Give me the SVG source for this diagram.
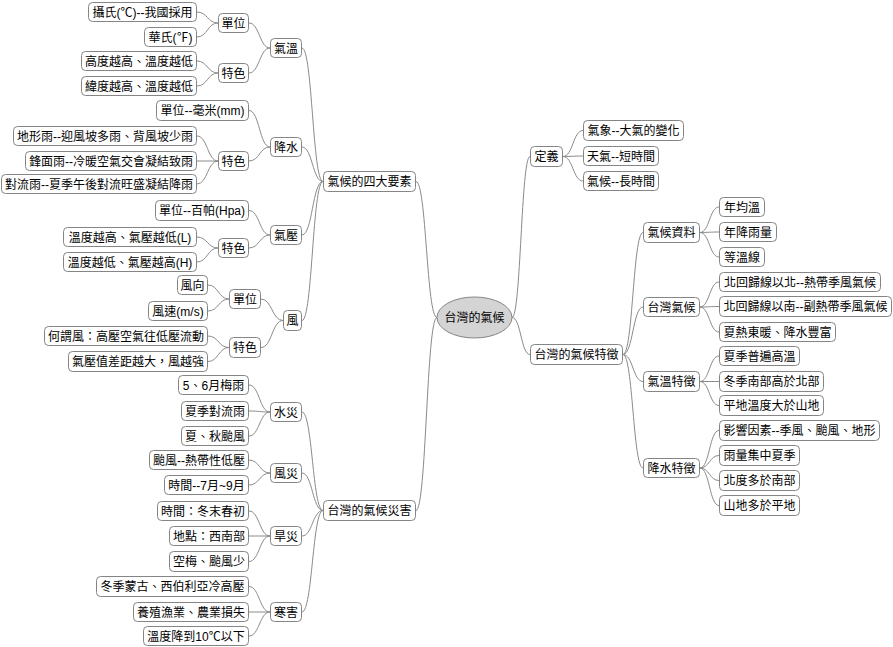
<svg xmlns="http://www.w3.org/2000/svg" width="893" height="647" viewBox="0 0 893 647">
<style>
.b{fill:#fff;stroke:#858585;stroke-width:1}
.r{fill:#d4d4d4;stroke:#858585;stroke-width:1}
text{font-family:"Liberation Sans","Noto Sans CJK TC","Noto Sans CJK SC",sans-serif;font-size:12px;fill:#000;text-anchor:middle}
.c path{fill:none;stroke:#8a8a8a;stroke-width:1}
</style>
<rect width="893" height="647" fill="#fff"/>
<g class="c" id="connectors">
<path d="M416 181.5C426.5 181.5 426.5 317.5 437 317.5"/>
<path d="M416 510.5C426.5 510.5 426.5 317.5 437 317.5"/>
<path d="M302 48C312.5 48 312.5 181.5 323 181.5"/>
<path d="M302 147C312.5 147 312.5 181.5 323 181.5"/>
<path d="M302 235C312.5 235 312.5 181.5 323 181.5"/>
<path d="M302 320.5C312.5 320.5 312.5 181.5 323 181.5"/>
<path d="M302 412C312.5 412 312.5 510.5 323 510.5"/>
<path d="M302 473C312.5 473 312.5 510.5 323 510.5"/>
<path d="M302 536C312.5 536 312.5 510.5 323 510.5"/>
<path d="M302 612C312.5 612 312.5 510.5 323 510.5"/>
<path d="M249 23C259.5 23 259.5 48 270 48"/>
<path d="M249 73C259.5 73 259.5 48 270 48"/>
<path d="M197 12C207.5 12 207.5 23 218 23"/>
<path d="M197 37C207.5 37 207.5 23 218 23"/>
<path d="M197 61C207.5 61 207.5 73 218 73"/>
<path d="M197 86C207.5 86 207.5 73 218 73"/>
<path d="M249 110.5C259.5 110.5 259.5 147 270 147"/>
<path d="M249 161C259.5 161 259.5 147 270 147"/>
<path d="M197 136C207.5 136 207.5 161 218 161"/>
<path d="M197 161L218 161"/>
<path d="M197 184C207.5 184 207.5 161 218 161"/>
<path d="M249 210.5C259.5 210.5 259.5 235 270 235"/>
<path d="M249 248C259.5 248 259.5 235 270 235"/>
<path d="M197 237C207.5 237 207.5 248 218 248"/>
<path d="M197 262C207.5 262 207.5 248 218 248"/>
<path d="M261 299C272 299 272 320.5 283 320.5"/>
<path d="M261 347.5C272 347.5 272 320.5 283 320.5"/>
<path d="M208 285C218.5 285 218.5 299 229 299"/>
<path d="M208 311C218.5 311 218.5 299 229 299"/>
<path d="M208 336C218.5 336 218.5 347.5 229 347.5"/>
<path d="M208 361.5C218.5 361.5 218.5 347.5 229 347.5"/>
<path d="M249 385C259.5 385 259.5 412 270 412"/>
<path d="M249 411C259.5 411 259.5 412 270 412"/>
<path d="M249 436C259.5 436 259.5 412 270 412"/>
<path d="M249 460C259.5 460 259.5 473 270 473"/>
<path d="M249 485C259.5 485 259.5 473 270 473"/>
<path d="M249 511C259.5 511 259.5 536 270 536"/>
<path d="M249 536L270 536"/>
<path d="M249 561.5C259.5 561.5 259.5 536 270 536"/>
<path d="M249 586.5C259.5 586.5 259.5 612 270 612"/>
<path d="M249 612L270 612"/>
<path d="M249 636C259.5 636 259.5 612 270 612"/>
<path d="M512 317.5C521 317.5 521 156.5 530 156.5"/>
<path d="M512 317.5C521 317.5 521 354.5 530 354.5"/>
<path d="M563 156.5C573 156.5 573 130.5 583 130.5"/>
<path d="M563 156.5C573 156.5 573 156 583 156"/>
<path d="M563 156.5C573 156.5 573 181 583 181"/>
<path d="M623 354.5C633 354.5 633 232.5 643 232.5"/>
<path d="M623 354.5C633 354.5 633 307 643 307"/>
<path d="M623 354.5C633 354.5 633 381.5 643 381.5"/>
<path d="M623 354.5C633 354.5 633 468 643 468"/>
<path d="M700 232.5C709.5 232.5 709.5 207 719 207"/>
<path d="M700 232.5C709.5 232.5 709.5 232 719 232"/>
<path d="M700 232.5C709.5 232.5 709.5 257 719 257"/>
<path d="M700 307C709.5 307 709.5 282 719 282"/>
<path d="M700 307C709.5 307 709.5 306.5 719 306.5"/>
<path d="M700 307C709.5 307 709.5 332 719 332"/>
<path d="M700 381.5C709.5 381.5 709.5 356 719 356"/>
<path d="M700 381.5L719 381.5"/>
<path d="M700 381.5C709.5 381.5 709.5 405.5 719 405.5"/>
<path d="M700 468C709.5 468 709.5 430.5 719 430.5"/>
<path d="M700 468C709.5 468 709.5 455.5 719 455.5"/>
<path d="M700 468C709.5 468 709.5 480.5 719 480.5"/>
<path d="M700 468C709.5 468 709.5 505.5 719 505.5"/>
</g>
<g id="root"><ellipse class="r" cx="474.5" cy="317.5" rx="37.5" ry="20.5"/><text x="474.5" y="322">台灣的氣候</text></g>
<g id="n_4elem"><rect class="b" x="323.5" y="171.5" width="92" height="20" rx="4"/><text x="369.5" y="186">氣候的四大要素</text></g>
<g id="n_disaster"><rect class="b" x="323.5" y="500.5" width="92" height="20" rx="4"/><text x="369.5" y="515">台灣的氣候災害</text></g>
<g id="n_temp"><rect class="b" x="270.5" y="38.5" width="31" height="19" rx="4"/><text x="286" y="52.5">氣溫</text></g>
<g id="n_t_unit"><rect class="b" x="218.5" y="13.5" width="30" height="19" rx="4"/><text x="233.5" y="27.5">單位</text></g>
<g id="n_t_c"><rect class="b" x="88.5" y="2.5" width="108" height="19" rx="4"/><text x="142.5" y="16.5">攝氏(℃)--我國採用</text></g>
<g id="n_t_f"><rect class="b" x="144.5" y="27.5" width="52" height="19" rx="4"/><text x="170.5" y="41.5">華氏(℉)</text></g>
<g id="n_t_feat"><rect class="b" x="218.5" y="63.5" width="30" height="19" rx="4"/><text x="233.5" y="77.5">特色</text></g>
<g id="n_t_h"><rect class="b" x="81.5" y="51.5" width="115" height="19" rx="4"/><text x="139" y="65.5">高度越高、溫度越低</text></g>
<g id="n_t_lat"><rect class="b" x="81.5" y="76.5" width="115" height="19" rx="4"/><text x="139" y="90.5">緯度越高、溫度越低</text></g>
<g id="n_rain"><rect class="b" x="270.5" y="137.5" width="31" height="19" rx="4"/><text x="286" y="151.5">降水</text></g>
<g id="n_r_unit"><rect class="b" x="156.5" y="100.5" width="92" height="20" rx="4"/><text x="202.5" y="115">單位--毫米(mm)</text></g>
<g id="n_r_feat"><rect class="b" x="218.5" y="151.5" width="30" height="19" rx="4"/><text x="233.5" y="165.5">特色</text></g>
<g id="n_r_1"><rect class="b" x="13.5" y="126.5" width="183" height="19" rx="4"/><text x="105" y="140.5">地形雨--迎風坡多雨、背風坡少雨</text></g>
<g id="n_r_2"><rect class="b" x="25.5" y="151.5" width="171" height="19" rx="4"/><text x="111" y="165.5">鋒面雨--冷暖空氣交會凝結致雨</text></g>
<g id="n_r_3"><rect class="b" x="1.5" y="174.5" width="195" height="19" rx="4"/><text x="99" y="188.5">對流雨--夏季午後對流旺盛凝結降雨</text></g>
<g id="n_press"><rect class="b" x="270.5" y="225.5" width="31" height="19" rx="4"/><text x="286" y="239.5">氣壓</text></g>
<g id="n_p_unit"><rect class="b" x="155.5" y="200.5" width="93" height="20" rx="4"/><text x="202" y="215">單位--百帕(Hpa)</text></g>
<g id="n_p_feat"><rect class="b" x="218.5" y="238.5" width="30" height="19" rx="4"/><text x="233.5" y="252.5">特色</text></g>
<g id="n_p_1"><rect class="b" x="63.5" y="227.5" width="133" height="19" rx="4"/><text x="130" y="241.5">溫度越高、氣壓越低(L)</text></g>
<g id="n_p_2"><rect class="b" x="63.5" y="252.5" width="133" height="19" rx="4"/><text x="130" y="266.5">溫度越低、氣壓越高(H)</text></g>
<g id="n_wind"><rect class="b" x="283.5" y="310.5" width="18" height="20" rx="4"/><text x="292.5" y="325">風</text></g>
<g id="n_w_unit"><rect class="b" x="229.5" y="289.5" width="31" height="19" rx="4"/><text x="245" y="303.5">單位</text></g>
<g id="n_w_dir"><rect class="b" x="177.5" y="275.5" width="30" height="19" rx="4"/><text x="192.5" y="289.5">風向</text></g>
<g id="n_w_speed"><rect class="b" x="148.5" y="301.5" width="59" height="19" rx="4"/><text x="178" y="315.5">風速(m/s)</text></g>
<g id="n_w_feat"><rect class="b" x="229.5" y="337.5" width="31" height="20" rx="4"/><text x="245" y="352">特色</text></g>
<g id="n_w_1"><rect class="b" x="44.5" y="326.5" width="163" height="19" rx="4"/><text x="126" y="340.5">何謂風：高壓空氣往低壓流動</text></g>
<g id="n_w_2"><rect class="b" x="68.5" y="351.5" width="139" height="20" rx="4"/><text x="138" y="366">氣壓值差距越大，風越強</text></g>
<g id="n_flood"><rect class="b" x="270.5" y="402.5" width="31" height="19" rx="4"/><text x="286" y="416.5">水災</text></g>
<g id="n_f_1"><rect class="b" x="178.5" y="375.5" width="70" height="19" rx="4"/><text x="213.5" y="389.5">5、6月梅雨</text></g>
<g id="n_f_2"><rect class="b" x="181.5" y="401.5" width="67" height="19" rx="4"/><text x="215" y="415.5">夏季對流雨</text></g>
<g id="n_f_3"><rect class="b" x="181.5" y="426.5" width="67" height="19" rx="4"/><text x="215" y="440.5">夏、秋颱風</text></g>
<g id="n_windd"><rect class="b" x="270.5" y="463.5" width="31" height="19" rx="4"/><text x="286" y="477.5">風災</text></g>
<g id="n_wd_1"><rect class="b" x="149.5" y="450.5" width="99" height="19" rx="4"/><text x="199" y="464.5">颱風--熱帶性低壓</text></g>
<g id="n_wd_2"><rect class="b" x="164.5" y="475.5" width="84" height="19" rx="4"/><text x="206.5" y="489.5">時間--7月~9月</text></g>
<g id="n_drought"><rect class="b" x="270.5" y="526.5" width="31" height="19" rx="4"/><text x="286" y="540.5">旱災</text></g>
<g id="n_d_1"><rect class="b" x="157.5" y="501.5" width="91" height="19" rx="4"/><text x="203" y="515.5">時間：冬末春初</text></g>
<g id="n_d_2"><rect class="b" x="169.5" y="526.5" width="79" height="19" rx="4"/><text x="209" y="540.5">地點：西南部</text></g>
<g id="n_d_3"><rect class="b" x="169.5" y="551.5" width="79" height="20" rx="4"/><text x="209" y="566">空梅、颱風少</text></g>
<g id="n_cold"><rect class="b" x="270.5" y="602.5" width="31" height="19" rx="4"/><text x="286" y="616.5">寒害</text></g>
<g id="n_c_1"><rect class="b" x="96.5" y="576.5" width="152" height="20" rx="4"/><text x="172.5" y="591">冬季蒙古、西伯利亞冷高壓</text></g>
<g id="n_c_2"><rect class="b" x="133.5" y="602.5" width="115" height="19" rx="4"/><text x="191" y="616.5">養殖漁業、農業損失</text></g>
<g id="n_c_3"><rect class="b" x="143.5" y="626.5" width="105" height="19" rx="4"/><text x="196" y="640.5">溫度降到10℃以下</text></g>
<g id="n_def"><rect class="b" x="530.5" y="146.5" width="32" height="20" rx="4"/><text x="546.5" y="161">定義</text></g>
<g id="n_def_1"><rect class="b" x="583.5" y="120.5" width="100" height="20" rx="4"/><text x="633.5" y="135">氣象--大氣的變化</text></g>
<g id="n_def_2"><rect class="b" x="583.5" y="146.5" width="75" height="19" rx="4"/><text x="621" y="160.5">天氣--短時間</text></g>
<g id="n_def_3"><rect class="b" x="583.5" y="171.5" width="75" height="19" rx="4"/><text x="621" y="185.5">氣候--長時間</text></g>
<g id="n_feat"><rect class="b" x="530.5" y="344.5" width="92" height="20" rx="4"/><text x="576.5" y="359">台灣的氣候特徵</text></g>
<g id="n_data"><rect class="b" x="643.5" y="222.5" width="56" height="20" rx="4"/><text x="671.5" y="237">氣候資料</text></g>
<g id="n_data_1"><rect class="b" x="719.5" y="197.5" width="45" height="19" rx="4"/><text x="742" y="211.5">年均溫</text></g>
<g id="n_data_2"><rect class="b" x="719.5" y="222.5" width="57" height="19" rx="4"/><text x="748" y="236.5">年降雨量</text></g>
<g id="n_data_3"><rect class="b" x="719.5" y="247.5" width="45" height="19" rx="4"/><text x="742" y="261.5">等溫線</text></g>
<g id="n_tw"><rect class="b" x="643.5" y="297.5" width="56" height="19" rx="4"/><text x="671.5" y="311.5">台灣氣候</text></g>
<g id="n_tw_1"><rect class="b" x="719.5" y="272.5" width="161" height="19" rx="4"/><text x="800" y="286.5">北回歸線以北--熱帶季風氣候</text></g>
<g id="n_tw_2"><rect class="b" x="719.5" y="296.5" width="172" height="20" rx="4"/><text x="805.5" y="311">北回歸線以南--副熱帶季風氣候</text></g>
<g id="n_tw_3"><rect class="b" x="719.5" y="322.5" width="116" height="19" rx="4"/><text x="777.5" y="336.5">夏熱東暖、降水豐富</text></g>
<g id="n_tf"><rect class="b" x="643.5" y="371.5" width="56" height="20" rx="4"/><text x="671.5" y="386">氣溫特徵</text></g>
<g id="n_tf_1"><rect class="b" x="719.5" y="346.5" width="80" height="19" rx="4"/><text x="759.5" y="360.5">夏季普遍高溫</text></g>
<g id="n_tf_2"><rect class="b" x="719.5" y="371.5" width="104" height="20" rx="4"/><text x="771.5" y="386">冬季南部高於北部</text></g>
<g id="n_tf_3"><rect class="b" x="719.5" y="395.5" width="104" height="20" rx="4"/><text x="771.5" y="410">平地溫度大於山地</text></g>
<g id="n_rf"><rect class="b" x="643.5" y="458.5" width="56" height="19" rx="4"/><text x="671.5" y="472.5">降水特徵</text></g>
<g id="n_rf_1"><rect class="b" x="719.5" y="420.5" width="160" height="20" rx="4"/><text x="799.5" y="435">影響因素--季風、颱風、地形</text></g>
<g id="n_rf_2"><rect class="b" x="719.5" y="445.5" width="80" height="20" rx="4"/><text x="759.5" y="460">雨量集中夏季</text></g>
<g id="n_rf_3"><rect class="b" x="719.5" y="470.5" width="80" height="20" rx="4"/><text x="759.5" y="485">北度多於南部</text></g>
<g id="n_rf_4"><rect class="b" x="719.5" y="495.5" width="80" height="20" rx="4"/><text x="759.5" y="510">山地多於平地</text></g>
</svg>
